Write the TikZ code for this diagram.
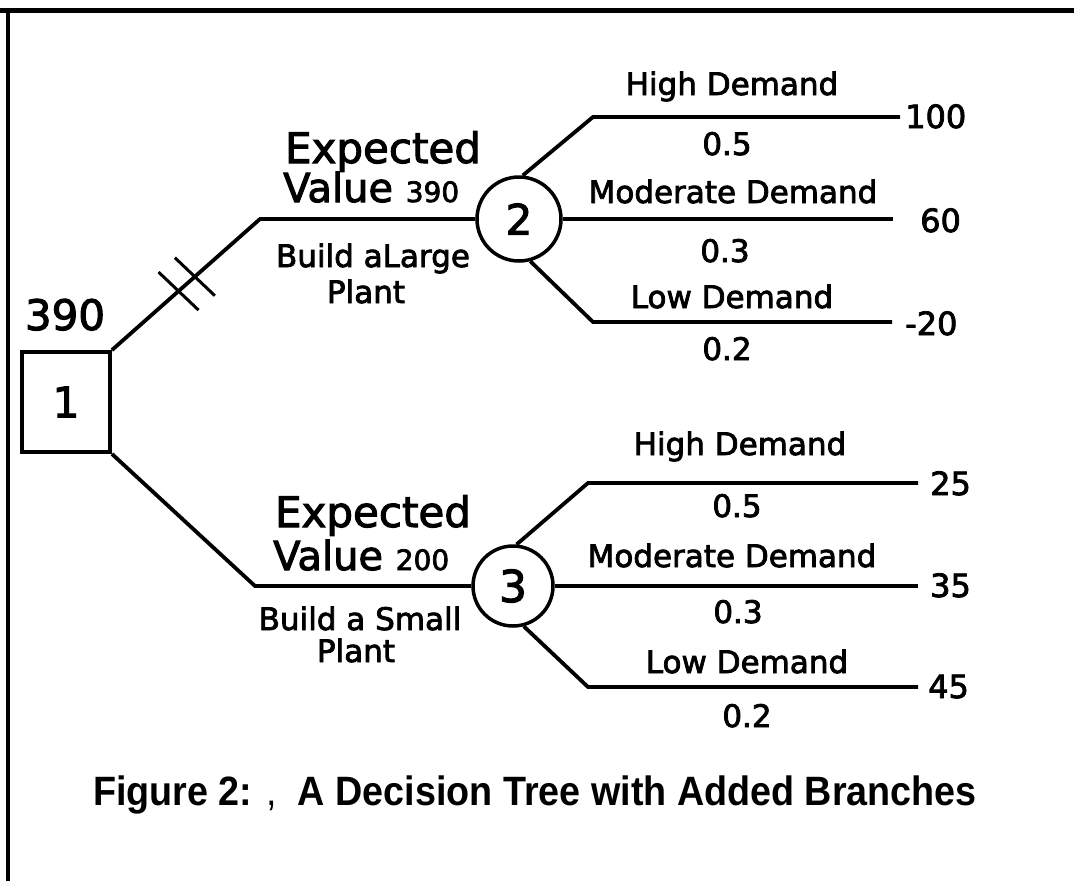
\documentclass[tikz,border=0pt]{standalone}
\usepackage{fontspec}
\usepackage{graphicx}
\setmainfont{DejaVu Sans}[FakeBold=2.5]
\newfontfamily\capfont{Liberation Sans}
\newcommand{\fsz}[1]{\fontsize{#1}{#1}\selectfont}

\begin{document}
\begin{tikzpicture}[
  x=1pt, y=-1pt,
  branch/.style={line width=3.8pt},
  dnode/.style={draw,rectangle,line width=3.8pt,minimum width=88pt,minimum height=100pt,inner sep=0pt,font=\fsz{42}},
  cnode/.style={draw,circle,line width=3.5pt,inner sep=0pt,font=\fsz{42}},
  lnode/.style={inner sep=0pt,anchor=base,font=\fsz{31}},
  pnode/.style={inner sep=0pt,anchor=base west,font=\fsz{32}},
  enode/.style={inner sep=0pt,font=\fsz{42}}
]
  \useasboundingbox (0,0) rectangle (1074,881);

  % frame
  \draw[line width=5pt] (0,10) -- (1074,10);
  \draw[line width=4pt] (8,8) -- (8,881);

  % decision and chance nodes
  \node[dnode] (d1) at (66,402) {1};
  \node[enode,anchor=base] (v1) at (65,330) {390};
  \node[cnode,minimum size=84pt] (c2) at (519,219) {2};
  \node[cnode,minimum size=80pt,font=\fsz{44}] (c3) at (513,586) {3};

  % corners
  \coordinate (k1) at (260,219);
  \coordinate (k2) at (255,586);
  \coordinate (k21) at (593,117);
  \coordinate (e21) at (900,117);
  \coordinate (e22) at (893,219);
  \coordinate (k23) at (593,322);
  \coordinate (e23) at (892,322);
  \coordinate (k31) at (588,483);
  \coordinate (e31) at (918,483);
  \coordinate (e32) at (918,586);
  \coordinate (k33) at (588,687);
  \coordinate (e33) at (918,687);

  % decision branches
  \draw[branch] (d1.north east) -- (k1) -- (c2);
  \path (d1.north east) -- (k1) coordinate[pos=0.45] (h1) coordinate[pos=0.56] (h2);
  \draw[line width=3pt] (h1) ++(-20,-19) -- ++(40,38);
  \draw[line width=3pt] (h2) ++(-20,-19) -- ++(40,38);
  \draw[branch] (d1.south east) -- (k2) -- (c3);

  % chance branches
  \draw[branch] (c2.85) -- (k21) -- (e21);
  \draw[branch] (c2) -- (e22);
  \draw[branch] (c2.-75) -- (k23) -- (e23);
  \draw[branch] (c3.85) -- (k31) -- (e31);
  \draw[branch] (c3) -- (e32);
  \draw[branch] (c3.-75) -- (k33) -- (e33);

  % branch texts, large plant
  \node[enode,anchor=base] (ev2) at (383,163) {Expected};
  \node[inner sep=0pt,anchor=base west,font=\fsz{40}] (vv2) at (283,202) {Value {\fsz{28}390}};
  \node[lnode] (bl1) at (373,267) {Build aLarge};
  \node[lnode] (bl2) at (366,303) {Plant};

  % branch texts, small plant
  \node[enode,anchor=base] (ev3) at (373,527) {Expected};
  \node[inner sep=0pt,anchor=base west,font=\fsz{40}] (vv3) at (273,570) {Value {\fsz{28}200}};
  \node[lnode] (bs1) at (360,630) {Build a Small};
  \node[lnode] (bs2) at (356,662) {Plant};

  % outcomes of 2
  \node[lnode] (o21) at (732,95) {High Demand};
  \node[lnode] (p21) at (727,155) {0.5};
  \node[lnode] (o22) at (733,203) {Moderate Demand};
  \node[lnode] (p22) at (725,262) {0.3};
  \node[lnode] (o23) at (732,308) {Low Demand};
  \node[lnode] (p23) at (727,360) {0.2};
  \node[pnode] (y21) at (905,128) {100};
  \node[pnode] (y22) at (920,232) {60};
  \node[pnode] (y23) at (905,335) {-20};

  % outcomes of 3
  \node[lnode] (o31) at (740,455) {High Demand};
  \node[lnode] (p31) at (737,517) {0.5};
  \node[lnode] (o32) at (732,567) {Moderate Demand};
  \node[lnode] (p32) at (738,623) {0.3};
  \node[lnode] (o33) at (747,673) {Low Demand};
  \node[lnode] (p33) at (747,727) {0.2};
  \node[pnode] (y31) at (930,495) {25};
  \node[pnode] (y32) at (930,597) {35};
  \node[pnode] (y33) at (928,698) {45};

  % caption
  \node[inner sep=0pt,anchor=base] (cap) at (535,805)
    {\capfont\bfseries\fsz{41}\scalebox{0.92}[1]{Figure 2: {\mdseries ,}\ \ A Decision Tree with Added Branches}};
\end{tikzpicture}
\end{document}
